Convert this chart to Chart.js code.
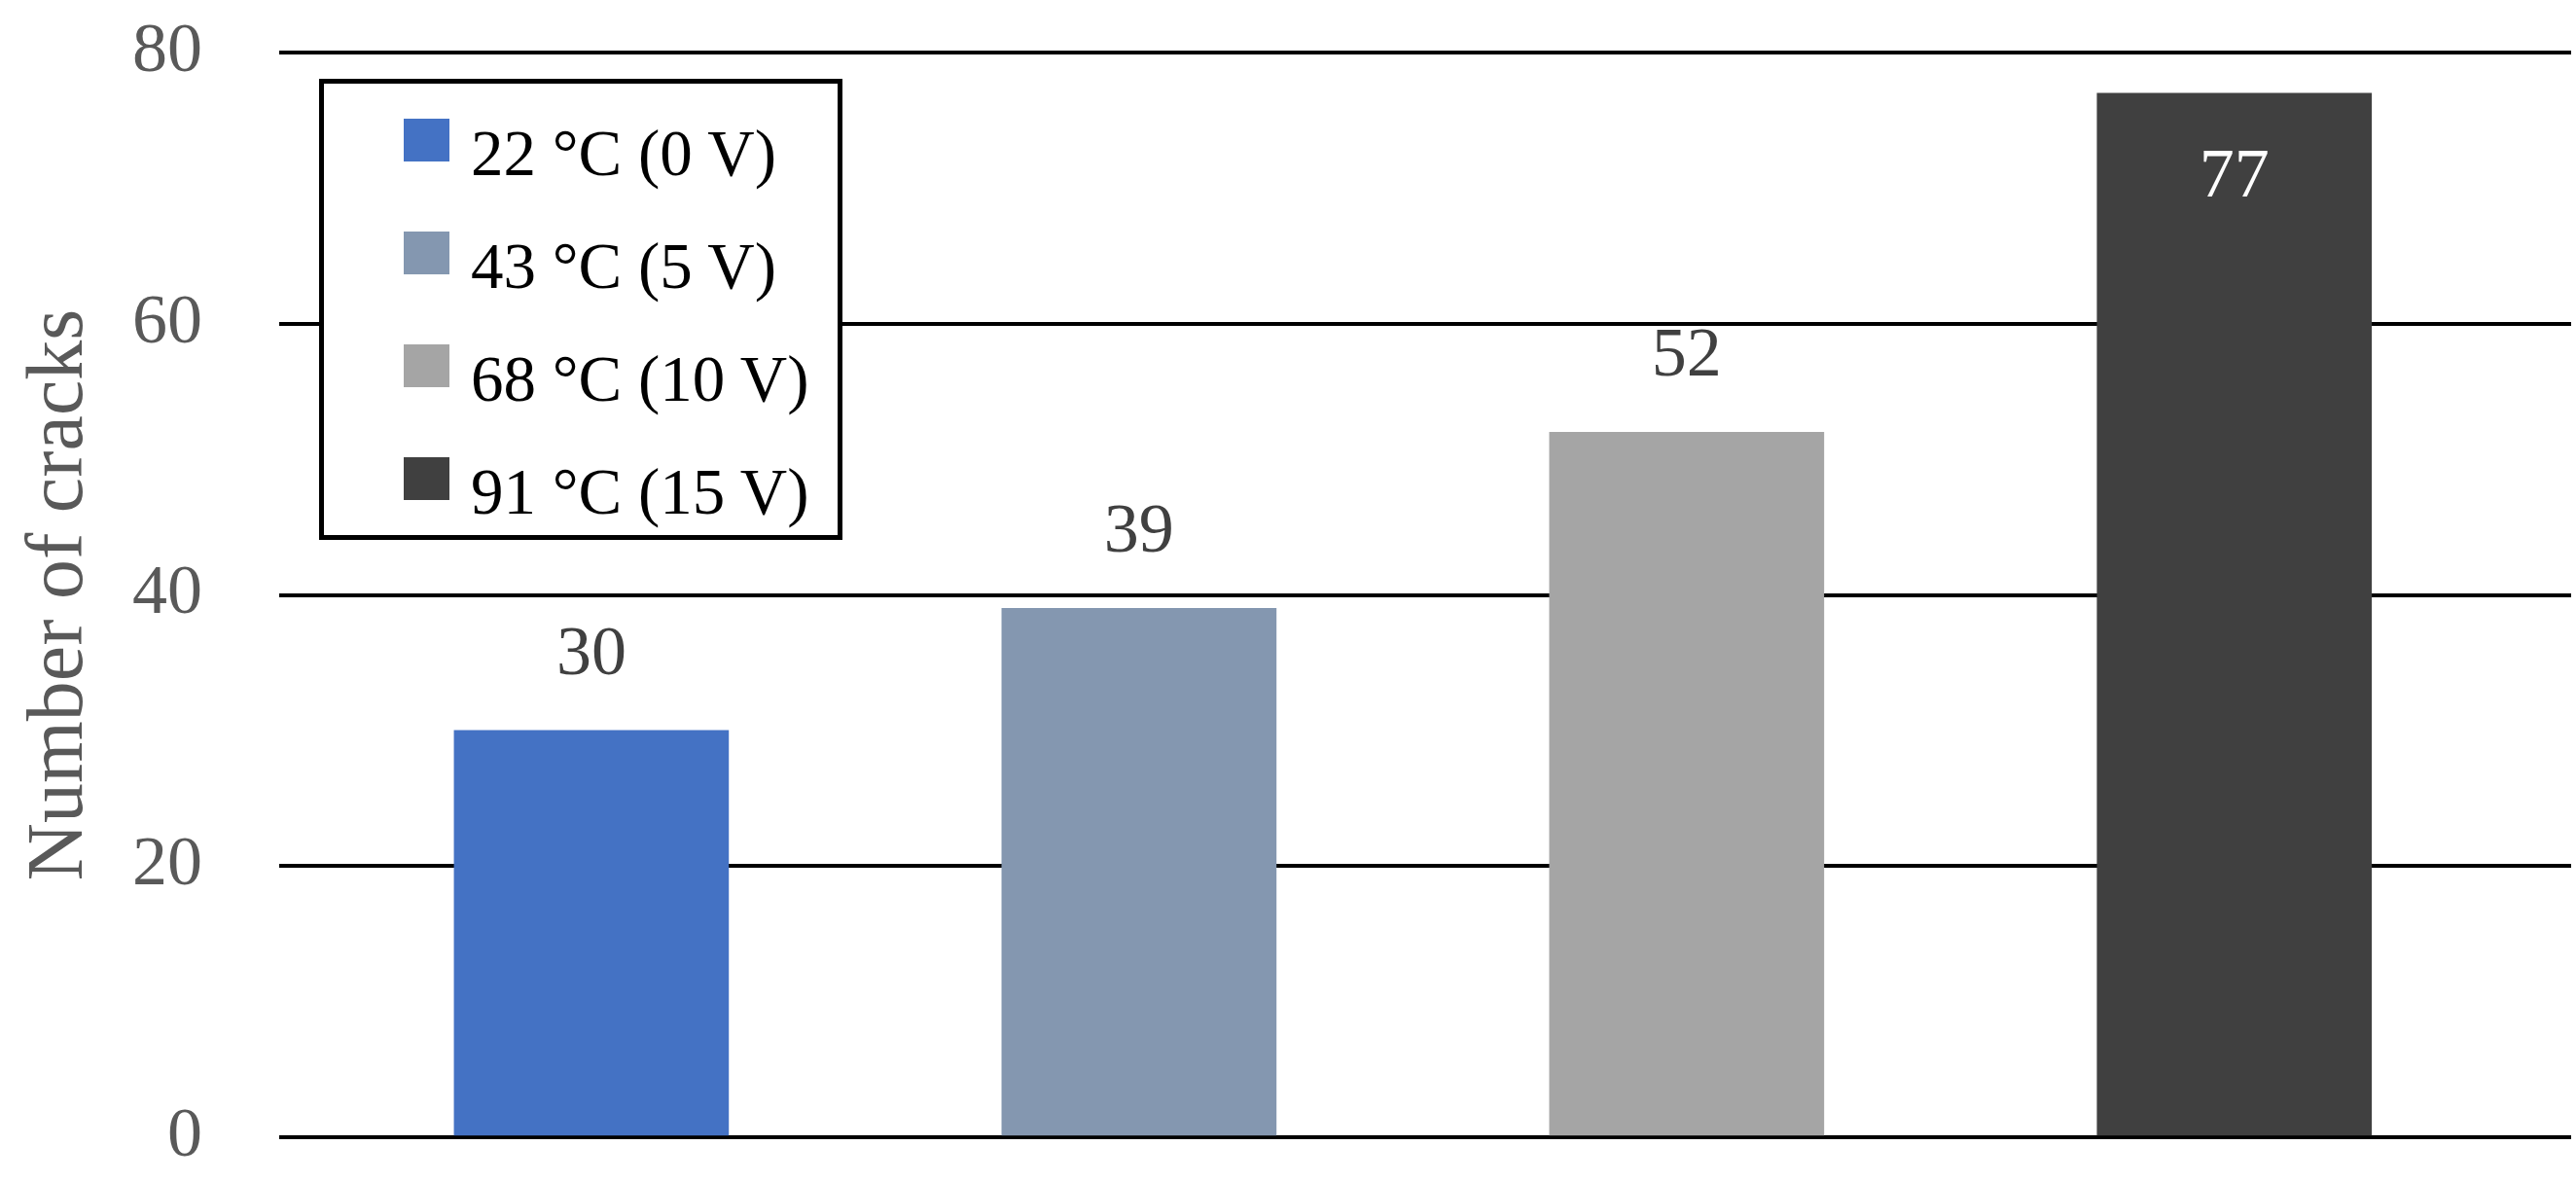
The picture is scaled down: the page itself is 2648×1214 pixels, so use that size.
<!DOCTYPE html>
<html>
<head>
<meta charset="utf-8">
<script src="https://cdn.jsdelivr.net/npm/chart.js@4/dist/chart.umd.min.js"></script>
<style>
  body{margin:0;background:#fff;}
  #wrap{position:relative;width:2648px;height:1214px;}
  #legend{position:absolute;left:328px;top:81px;width:538px;height:474px;box-sizing:border-box;
    border:5px solid #000;background:#fff;font-family:"Liberation Serif",serif;font-size:67px;color:#000;
    display:flex;flex-direction:column;padding:0 0 0 82px;}
  .item{display:flex;align-items:center;flex:1;}
  .sw{width:47px;height:44px;margin-right:22px;flex:none;}
  .txt{position:relative;top:13px;}
</style>
</head>
<body>
<div id="wrap">
  <canvas id="c" width="2648" height="1214"></canvas>
  <div id="legend"></div>
</div>
<script>
const categories = ["22 °C (0 V)", "43 °C (5 V)", "68 °C (10 V)", "91 °C (15 V)"];
const counts = [30, 39, 52, 77];
const colors = ["#4472C4", "#8497B0", "#A5A5A5", "#404040"];
const yTicks = [0, 20, 40, 60, 80];

// legend box drawn over the plot, like the original
document.getElementById("legend").innerHTML = categories.map((c, i) =>
  `<div class="item"><span class="sw" style="background:${colors[i]}"></span><span class="txt">${c}</span></div>`).join("");

const valueLabels = {
  id: "valueLabels",
  afterDatasetsDraw(chart) {
    const ctx = chart.ctx;
    const meta = chart.getDatasetMeta(0);
    ctx.save();
    ctx.font = '72px "Liberation Serif"';
    ctx.textAlign = "center";
    meta.data.forEach((bar, i) => {
      const inside = counts[i] > 70;
      ctx.fillStyle = inside ? "#ffffff" : "#404040";
      ctx.fillText(String(counts[i]), bar.x, inside ? bar.y + 106 : bar.y - 58);
    });
    ctx.restore();
  }
};

new Chart(document.getElementById("c"), {
  type: "bar",
  data: {
    datasets: [{
      label: "Number of cracks",
      data: counts.map((v, i) => ({x: i, y: v})),
      backgroundColor: colors,
      borderWidth: 0,
      barThickness: 282
    }]
  },
  options: {
    responsive: false,
    devicePixelRatio: 1,
    animation: false,
    layout: {padding: {top: 54, bottom: 45, right: 5, left: 0}},
    plugins: {legend: {display: false}, tooltip: {enabled: false}},
    scales: {
      x: {type: "linear", min: -0.57, max: 3.615, offset: false, display: false},
      y: {
        min: 0, max: 80,
        afterBuildTicks: s => { s.ticks = yTicks.map(v => ({value: v})); },
        afterFit: s => { s.width = 287; s.paddingTop = 0; s.paddingBottom = 0; },
        border: {display: false},
        grid: {color: "#000", lineWidth: 4, drawTicks: false},
        ticks: {color: "#595959", padding: 79, font: {family: "Liberation Serif", size: 72}},
        title: {display: true, text: "Number of cracks", color: "#595959", padding: {top: 13},
          font: {family: "Liberation Serif", size: 82}}
      }
    }
  },
  plugins: [valueLabels]
});
</script>
</body>
</html>
